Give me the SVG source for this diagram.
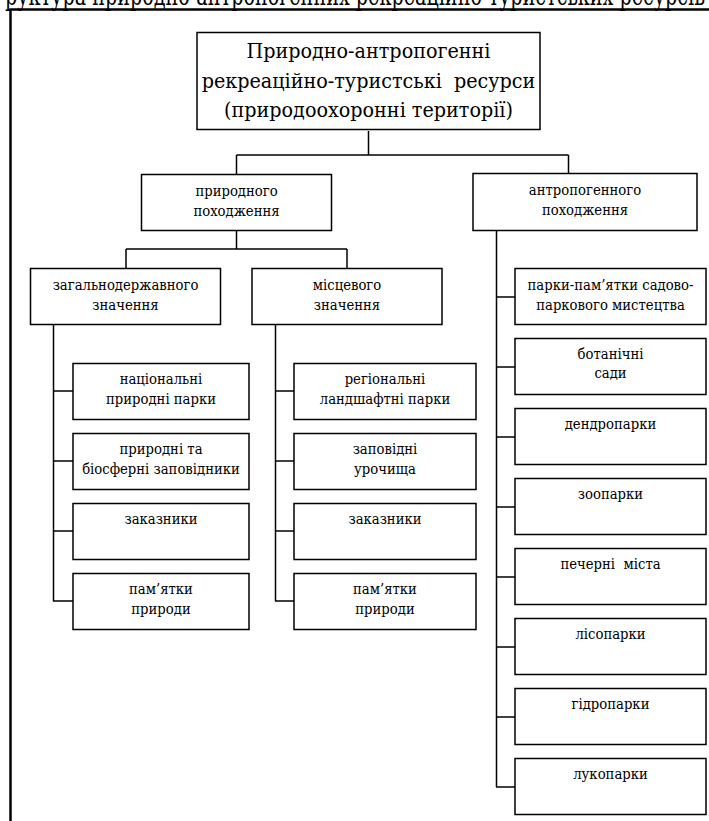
<svg xmlns="http://www.w3.org/2000/svg" width="709" height="821" viewBox="0 0 709 821">
<style>
.box{fill:#fff;stroke:#000;stroke-width:1.5}
.frame{fill:none;stroke:#000;stroke-width:2.5}
.conn line{stroke:#000;stroke-width:1.5}
text{font-family:"DejaVu Serif Condensed","DejaVu Serif",serif;font-stretch:condensed;fill:#000;text-anchor:middle;white-space:pre}
.t16{font-size:14.7px}
.t24{font-size:21.3px}
</style>
<rect width="709" height="821" fill="#fff"/>
<text x="355" y="5" style="font-size:28px" textLength="700" lengthAdjust="spacingAndGlyphs">руктура природно-антропогенних рекреаційно-туристських ресурсів</text>
<path class="frame" d="M10.5 830 V9.5 H720"/>
<g class="conn">
<line x1="368.5" y1="131" x2="368.5" y2="155"/>
<line x1="236.5" y1="155" x2="568.5" y2="155"/>
<line x1="236.5" y1="155" x2="236.5" y2="174"/>
<line x1="568.5" y1="155" x2="568.5" y2="173"/>
<line x1="236.5" y1="230" x2="236.5" y2="249"/>
<line x1="126" y1="249" x2="347" y2="249"/>
<line x1="126" y1="249" x2="126" y2="268"/>
<line x1="347" y1="249" x2="347" y2="268"/>
<line x1="53.5" y1="325" x2="53.5" y2="601"/>
<line x1="53" y1="391" x2="73" y2="391"/>
<line x1="53" y1="461" x2="73" y2="461"/>
<line x1="53" y1="531" x2="73" y2="531"/>
<line x1="53" y1="601" x2="73" y2="601"/>
<line x1="275.5" y1="325" x2="275.5" y2="601"/>
<line x1="275" y1="391" x2="294" y2="391"/>
<line x1="275" y1="461" x2="294" y2="461"/>
<line x1="275" y1="531" x2="294" y2="531"/>
<line x1="275" y1="601" x2="294" y2="601"/>
<line x1="496.5" y1="231" x2="496.5" y2="787"/>
<line x1="496" y1="297" x2="515" y2="297"/>
<line x1="496" y1="367" x2="515" y2="367"/>
<line x1="496" y1="437" x2="515" y2="437"/>
<line x1="496" y1="507" x2="515" y2="507"/>
<line x1="496" y1="577" x2="515" y2="577"/>
<line x1="496" y1="647" x2="515" y2="647"/>
<line x1="496" y1="717" x2="515" y2="717"/>
<line x1="496" y1="787" x2="515" y2="787"/>
</g>
<g id="root"><rect class="box" x="197" y="32.5" width="343" height="97"/>
<text class="t24" x="368.5" y="58">Природно-антропогенні</text>
<text class="t24" x="368.5" y="88">рекреаційно-туристські  ресурси</text>
<text class="t24" x="368.5" y="117">(природоохоронні території)</text></g>
<g id="natural"><rect class="box" x="141.5" y="174.5" width="190" height="56"/>
<text class="t16" x="236.5" y="196">природного</text><text class="t16" x="236.5" y="216">походження</text></g>
<g id="anthropogenic"><rect class="box" x="473" y="173.5" width="224" height="57"/>
<text class="t16" x="585" y="195">антропогенного</text><text class="t16" x="585" y="215">походження</text></g>
<g id="national"><rect class="box" x="30.5" y="268.5" width="190" height="56"/>
<text class="t16" x="125.5" y="290">загальнодержавного</text><text class="t16" x="125.5" y="310">значення</text></g>
<g id="local"><rect class="box" x="252" y="268.5" width="190" height="56"/>
<text class="t16" x="347" y="290">місцевого</text><text class="t16" x="347" y="310">значення</text></g>
<g id="n1"><rect class="box" x="73" y="363.5" width="176" height="56"/>
<text class="t16" x="161" y="384">національні</text><text class="t16" x="161" y="404">природні парки</text></g>
<g id="n2"><rect class="box" x="73" y="433.5" width="176" height="56"/>
<text class="t16" x="161" y="454">природні та</text><text class="t16" x="161" y="474">біосферні заповідники</text></g>
<g id="n3"><rect class="box" x="73" y="503.5" width="176" height="56"/>
<text class="t16" x="161" y="524">заказники</text></g>
<g id="n4"><rect class="box" x="73" y="573.5" width="176" height="56"/>
<text class="t16" x="161" y="594">пам’ятки</text><text class="t16" x="161" y="614">природи</text></g>
<g id="l1"><rect class="box" x="294" y="363.5" width="182" height="56"/>
<text class="t16" x="385" y="384">регіональні</text><text class="t16" x="385" y="404">ландшафтні парки</text></g>
<g id="l2"><rect class="box" x="294" y="433.5" width="182" height="56"/>
<text class="t16" x="385" y="454">заповідні</text><text class="t16" x="385" y="474">урочища</text></g>
<g id="l3"><rect class="box" x="294" y="503.5" width="182" height="56"/>
<text class="t16" x="385" y="524">заказники</text></g>
<g id="l4"><rect class="box" x="294" y="573.5" width="182" height="56"/>
<text class="t16" x="385" y="594">пам’ятки</text><text class="t16" x="385" y="614">природи</text></g>
<g id="a1"><rect class="box" x="515" y="268.5" width="191" height="56"/>
<text class="t16" x="610.5" y="290">парки-пам’ятки садово-</text><text class="t16" x="610.5" y="310">паркового мистецтва</text></g>
<g id="a2"><rect class="box" x="515" y="338.5" width="191" height="56"/>
<text class="t16" x="610.5" y="359">ботанічні</text><text class="t16" x="610.5" y="378">сади</text></g>
<g id="a3"><rect class="box" x="515" y="408.5" width="191" height="56"/>
<text class="t16" x="610.5" y="429">дендропарки</text></g>
<g id="a4"><rect class="box" x="515" y="478.5" width="191" height="56"/>
<text class="t16" x="610.5" y="499">зоопарки</text></g>
<g id="a5"><rect class="box" x="515" y="548.5" width="191" height="56"/>
<text class="t16" x="610.5" y="569">печерні  міста</text></g>
<g id="a6"><rect class="box" x="515" y="618.5" width="191" height="56"/>
<text class="t16" x="610.5" y="639">лісопарки</text></g>
<g id="a7"><rect class="box" x="515" y="688.5" width="191" height="56"/>
<text class="t16" x="610.5" y="709">гідропарки</text></g>
<g id="a8"><rect class="box" x="515" y="758.5" width="191" height="56"/>
<text class="t16" x="610.5" y="779">лукопарки</text></g>
</svg>
